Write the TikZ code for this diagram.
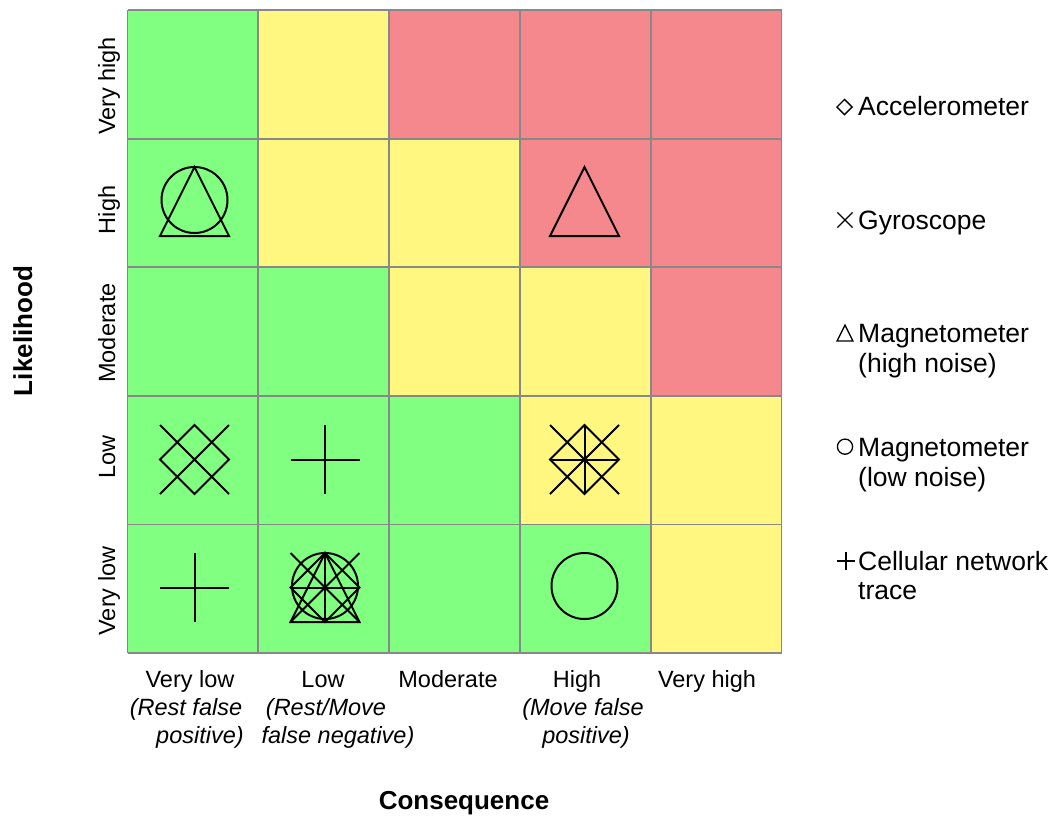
\documentclass[tikz,border=0pt]{standalone}
\usepackage{fontspec}
\setmainfont{Liberation Sans}
\definecolor{riskgreen}{HTML}{80FF80}
\definecolor{riskyellow}{HTML}{FFF780}
\definecolor{riskred}{HTML}{F4888C}
\definecolor{gridgray}{HTML}{888888}
\begin{document}
\begin{tikzpicture}[x=1pt,y=-1pt,
  symline/.style={line width=2pt, line join=miter},
  legline/.style={line width=1.3pt},
  ticklabel/.style={font=\fontsize{23.5}{28}\selectfont, inner sep=0, anchor=base},
  notelabel/.style={font=\fontsize{23.5}{28}\selectfont\itshape, inner sep=0, anchor=base},
  legendlabel/.style={font=\fontsize{26.5}{30}\selectfont, inner sep=0, anchor=base west},
  axistitle/.style={font=\fontsize{26}{30}\selectfont\bfseries, inner sep=0, anchor=base},
  % sensor symbols, drawn in a box of half size 34.5 around the origin
  accel/.pic={\draw (0,-34.5) -- (34.5,0) -- (0,34.5) -- (-34.5,0) -- cycle;},
  gyro/.pic={\draw (-34.5,-34.5) -- (34.5,34.5) (-34.5,34.5) -- (34.5,-34.5);},
  maghigh/.pic={\draw (0,-34.5) -- (34.5,34.5) -- (-34.5,34.5) -- cycle;},
  maglow/.pic={\draw (0,-1.5) circle[radius=33];},
  celltrace/.pic={\draw (0,-34.5) -- (0,34.5) (-34.5,0) -- (34.5,0);}
]
\useasboundingbox (0,0) rectangle (1057,817);

% risk matrix cells: rows from very high (top) to very low
\def\gx{127.5}\def\gy{10}\def\cw{130.8}\def\ch{128.6}
\foreach \row/\colours in {0/{riskgreen,riskyellow,riskred,riskred,riskred},
                           1/{riskgreen,riskyellow,riskyellow,riskred,riskred},
                           2/{riskgreen,riskgreen,riskyellow,riskyellow,riskred},
                           3/{riskgreen,riskgreen,riskgreen,riskyellow,riskyellow},
                           4/{riskgreen,riskgreen,riskgreen,riskgreen,riskyellow}}{
  \foreach \cc [count=\col from 0] in \colours {
    \fill[\cc] (\gx+\col*\cw,\gy+\row*\ch) rectangle ++(\cw,\ch);
  }
}
\foreach \i in {0,...,5}{
  \draw[gridgray, line width=1.8pt] (\gx+\i*\cw,\gy) -- ++(0,5*\ch);
  \draw[gridgray, line width=1.8pt] (\gx,\gy+\i*\ch) -- ++(5*\cw,0);
}

% symbol positions inside the cells
\coordinate (hi-vl)  at (194.5,201.5);
\coordinate (hi-hi)  at (584.5,201.5);
\coordinate (lo-vl)  at (194.5,459.5);
\coordinate (lo-lo)  at (325,459.5);
\coordinate (lo-hi)  at (584.5,459.5);
\coordinate (vl-vl)  at (194.5,587.5);
\coordinate (vl-lo)  at (325,587.5);
\coordinate (vl-hi)  at (584.5,587.5);

\pic[symline] at (hi-vl) {maglow};
\pic[symline] at (hi-vl) {maghigh};
\pic[symline] at (hi-hi) {maghigh};
\pic[symline] at (lo-vl) {accel};
\pic[symline] at (lo-vl) {gyro};
\pic[symline] at (lo-lo) {celltrace};
\pic[symline] at (lo-hi) {accel};
\pic[symline] at (lo-hi) {gyro};
\pic[symline] at (lo-hi) {celltrace};
\pic[symline] at (vl-vl) {celltrace};
\pic[symline] at (vl-lo) {maglow};
\pic[symline] at (vl-lo) {maghigh};
\pic[symline] at (vl-lo) {accel};
\pic[symline] at (vl-lo) {gyro};
\pic[symline] at (vl-lo) {celltrace};
\pic[symline] at (vl-hi) {maglow};

% likelihood labels
\node[ticklabel, rotate=90] (l-vh) at (115,86)  {Very high};
\node[ticklabel, rotate=90] (l-h)  at (115,210) {High};
\node[ticklabel, rotate=90] (l-m)  at (115,333) {Moderate};
\node[ticklabel, rotate=90] (l-l)  at (115,457) {Low};
\node[ticklabel, rotate=90] (l-vl) at (115,591) {Very low};
\node[axistitle, rotate=90] (likelihood) at (32,331) {Likelihood};

% consequence labels
\node[ticklabel] (c-vl) at (190,687) {Very low};
\node[notelabel] (c-vl-a) at (186,715) {(Rest false};
\node[notelabel] (c-vl-b) at (200,743) {positive)};
\node[ticklabel] (c-l) at (323,687) {Low};
\node[notelabel] (c-l-a) at (326,715) {(Rest/Move};
\node[notelabel] (c-l-b) at (338,743) {false negative)};
\node[ticklabel] (c-m) at (448,687) {Moderate};
\node[ticklabel] (c-h) at (577,687) {High};
\node[notelabel] (c-h-a) at (583,715) {(Move false};
\node[notelabel] (c-h-b) at (586,743) {positive)};
\node[ticklabel] (c-vh) at (707,687) {Very high};
\node[axistitle] (consequence) at (464,809) {Consequence};

% legend
\pic[legline, scale=0.22] at (844.5,107) {accel};
\node[legendlabel] (leg-acc) at (858,115) {Accelerometer};
\pic[legline, scale=0.22] at (845,220) {gyro};
\node[legendlabel] (leg-gyr) at (858,229) {Gyroscope};
\pic[legline, scale=0.23] at (845,333) {maghigh};
\node[legendlabel] (leg-mh) at (858,342) {Magnetometer};
\node[legendlabel] (leg-mh2) at (858,372) {(high noise)};
\pic[legline, scale=0.23] at (845,447) {maglow};
\node[legendlabel] (leg-ml) at (858,456) {Magnetometer};
\node[legendlabel] (leg-ml2) at (858,486) {(low noise)};
\pic[legline, scale=0.25] at (846,561) {celltrace};
\node[legendlabel] (leg-cn) at (858,570) {Cellular network};
\node[legendlabel] (leg-cn2) at (858,599) {trace};
\end{tikzpicture}
\end{document}
